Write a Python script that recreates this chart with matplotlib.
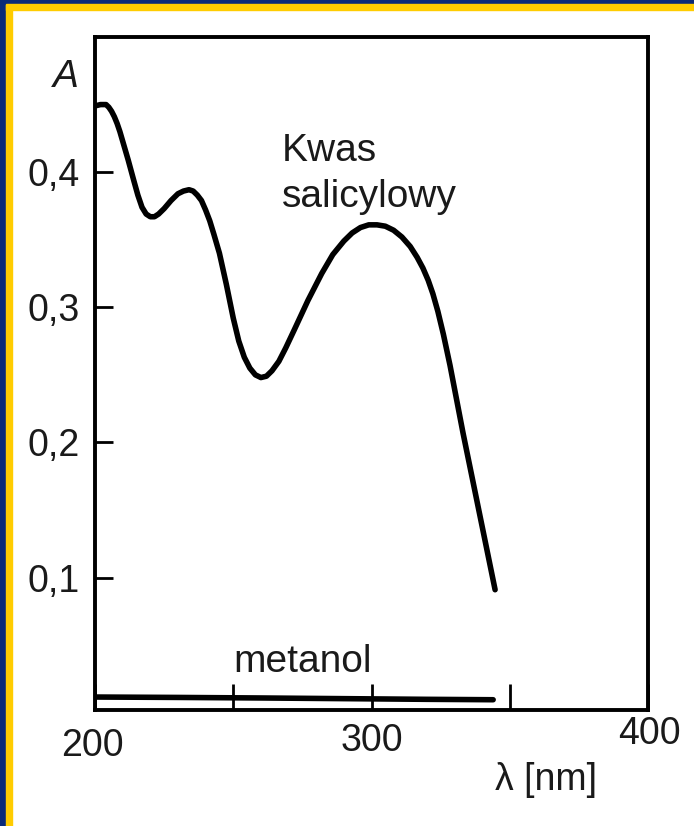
import matplotlib.pyplot as plt
from matplotlib.patches import Rectangle
from matplotlib.transforms import ScaledTranslation

# absorption spectrum of salicylic acid
WAVELENGTH = [200, 202, 204, 205, 206, 207, 208, 209, 210, 212, 214, 215.5, 217,
              218.5, 220, 221.5, 223, 225, 227.5, 230, 232, 234, 235.5, 237, 238.5,
              240, 241.5, 243, 245, 247.5, 250, 252, 254, 256, 258, 260, 262, 264,
              266.5, 269, 272, 277, 282, 286, 290, 293, 296, 299, 302, 305, 308,
              311, 314, 316.5, 318.6, 320.5, 322.2, 324, 326, 328.4, 333.1, 339.2,
              344.7]
ABSORBANCE = [0.449, 0.450, 0.450, 0.448, 0.445, 0.441, 0.436, 0.430, 0.423, 0.409,
              0.394, 0.383, 0.374, 0.369, 0.367, 0.367, 0.369, 0.373, 0.379, 0.384,
              0.386, 0.387, 0.386, 0.383, 0.379, 0.372, 0.364, 0.354, 0.340, 0.317,
              0.292, 0.275, 0.263, 0.255, 0.250, 0.248, 0.249, 0.253, 0.260, 0.270,
              0.283, 0.305, 0.325, 0.339, 0.349, 0.355, 0.359, 0.361, 0.361, 0.360,
              0.357, 0.352, 0.345, 0.337, 0.329, 0.320, 0.310, 0.297, 0.280, 0.257,
              0.207, 0.146, 0.091]

# methanol baseline
METH_WAVELENGTH = [200, 230, 260, 290, 320, 344]
METH_ABSORBANCE = [0.0116, 0.0113, 0.0109, 0.0104, 0.0099, 0.0096]

Y_TICKS = [0.1, 0.2, 0.3, 0.4]
Y_LABELS = ["0,1", "0,2", "0,3", "0,4"]
X_TICKS = [200, 300, 400]
X_LABELS = ["200", "300", "400"]
X_MINOR = [250, 350]

INK = "#1a1a1a"
NAVY, YELLOW = "#0a2a78", "#ffcc00"

plt.rcParams["font.family"] = ["Liberation Sans", "DejaVu Sans"]

fig = plt.figure(figsize=(6.94, 8.26), dpi=100, facecolor="white")
W, H = 694, 826
# frame: navy + yellow stripes on left and top
fig.patches.append(Rectangle((0, 0), 6 / W, 1, transform=fig.transFigure, color=NAVY, zorder=0))
fig.patches.append(Rectangle((6 / W, 0), 6 / W, 1 - 4 / H, transform=fig.transFigure, color=YELLOW, zorder=0))
fig.patches.append(Rectangle((0, 1 - 4 / H), 1, 4 / H, transform=fig.transFigure, color=NAVY, zorder=0))
fig.patches.append(Rectangle((6 / W, 1 - 10 / H), 1, 6 / H, transform=fig.transFigure, color=YELLOW, zorder=0))

ax = fig.add_axes([95 / W, 116 / H, 553 / W, 673 / H])
ax.plot(WAVELENGTH, ABSORBANCE, color="black", lw=4, solid_capstyle="round",
        solid_joinstyle="round")
ax.plot(METH_WAVELENGTH, METH_ABSORBANCE, color="black", lw=4, solid_capstyle="round")

ax.set_xlim(200, 400)
ax.set_ylim(0.002, 0.5)
for spine in ax.spines.values():
    spine.set_linewidth(2.8)
    spine.set_color("black")

ax.set_yticks(Y_TICKS, Y_LABELS)
ax.set_xticks(X_TICKS, X_LABELS)
ax.set_xticks(X_MINOR, minor=True)
ax.tick_params(axis="y", direction="in", length=13, width=2, pad=11,
               labelsize=27, labelcolor=INK)
ax.tick_params(axis="x", which="both", direction="in", length=19, width=2, pad=13,
               labelsize=27, labelcolor=INK)

# stagger the x labels like in the original
offsets = [(-3, 0), (0, 5), (1, 12)]
for lab, (dx, dy) in zip(ax.get_xticklabels(), offsets):
    lab.set_transform(lab.get_transform() + ScaledTranslation(dx / 100, dy / 100, fig.dpi_scale_trans))

ax.text(-0.052, 0.4705, "A", transform=ax.get_yaxis_transform(), fontsize=28,
        style="italic", color=INK, ha="center", va="center")
ax.text(0.815, -0.104, "λ [nm]", transform=ax.transAxes, fontsize=27,
        color=INK, ha="center", va="center")
ax.text(267.5, 0.408, "Kwas", fontsize=28, color=INK, ha="left", va="baseline")
ax.text(267.5, 0.374, "salicylowy", fontsize=28, color=INK, ha="left", va="baseline")
ax.text(275, 0.030, "metanol", fontsize=28, color=INK, ha="center", va="baseline")

fig.savefig("out.png", dpi=100, facecolor="white")
